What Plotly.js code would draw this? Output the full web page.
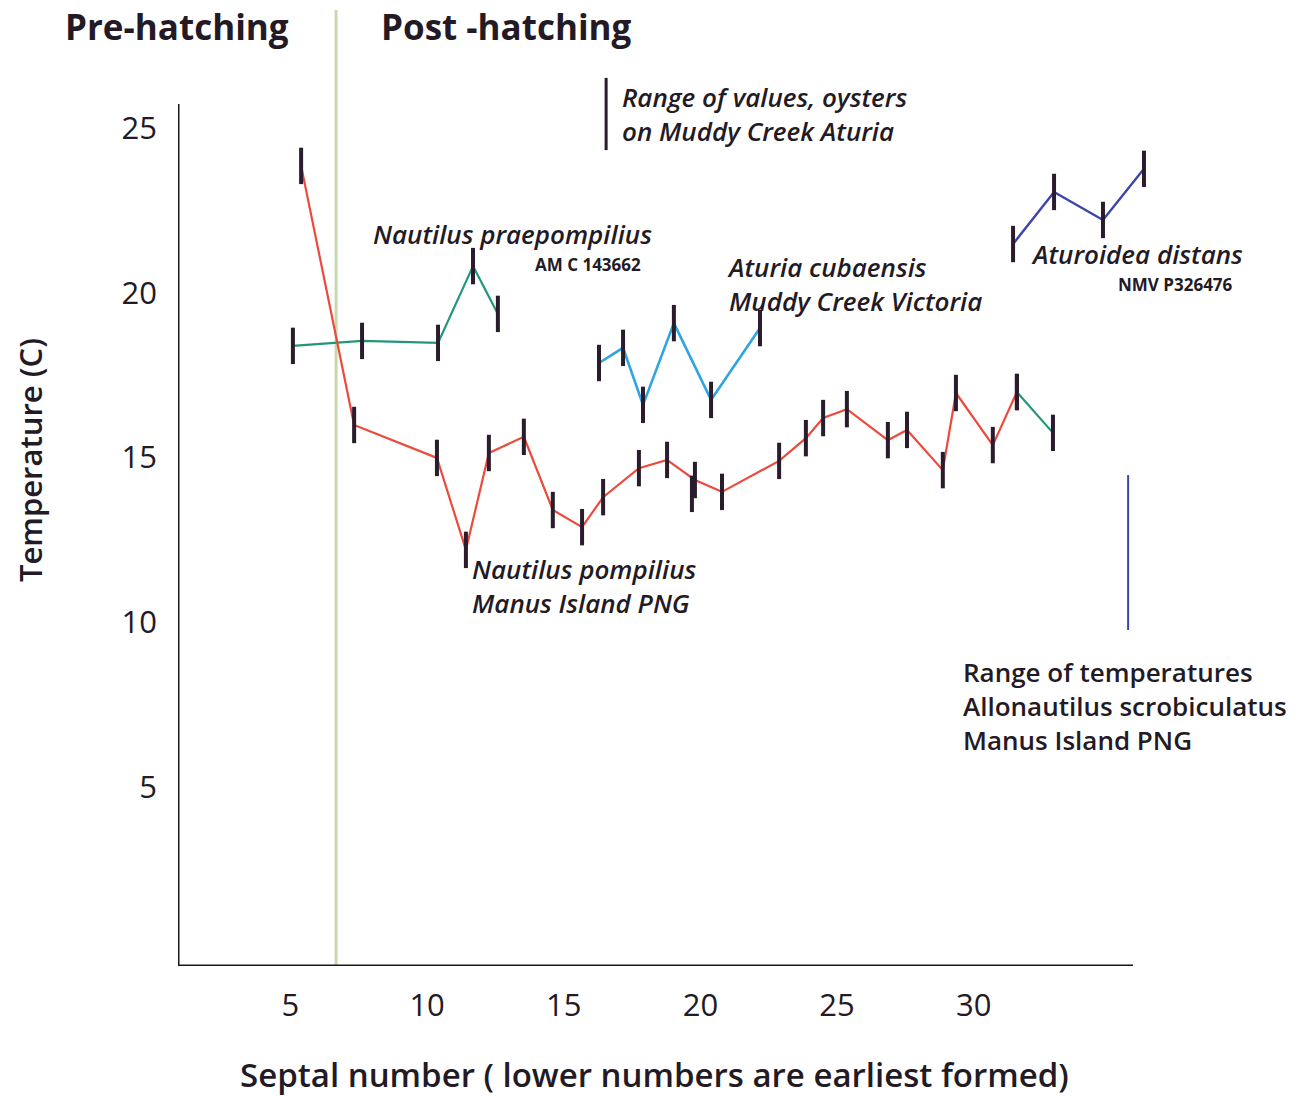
<!DOCTYPE html>
<html>
<head>
<meta charset="utf-8">
<script src="https://cdn.plot.ly/plotly-3.0.1.min.js"></script>
<style>html,body{margin:0;padding:0;background:#fff;}#chart{width:1304px;height:1096px;}</style>
</head>
<body>
<div id="chart"></div>
<script>
// ---- Data ----
// Nautilus pompilius, Manus Island PNG
const pompiliusSeptum = [5.39, 7.33, 10.36, 11.42, 12.26, 13.54, 14.60, 15.67, 16.44, 17.75, 18.78, 19.80, 20.79, 22.88, 23.86, 24.49, 25.36, 26.86, 27.56, 28.87, 29.35, 30.70, 31.58];
const pompiliusTemp   = [23.85, 15.99, 14.99, 12.20, 15.14, 15.63, 13.41, 12.89, 13.80, 14.68, 14.93, 14.32, 13.96, 14.90, 15.59, 16.20, 16.47, 15.53, 15.84, 14.62, 16.96, 15.38, 16.99];
// extra measurement marker near septum 19.7
const pompiliusExtraSeptum = [19.69];
const pompiliusExtraTemp   = [13.90];
// last segment drawn in teal
const pompiliusTailSeptum = [31.58, 32.90];
const pompiliusTailTemp   = [16.99, 15.75];
// Nautilus praepompilius AM C 143662
const praepompiliusSeptum = [5.09, 7.62, 10.40, 11.68, 12.59];
const praepompiliusTemp   = [18.39, 18.54, 18.48, 20.81, 19.36];
// Aturia cubaensis, Muddy Creek Victoria
const cubaensisSeptum = [16.29, 17.17, 17.90, 19.03, 20.39, 22.18];
const cubaensisTemp   = [17.87, 18.33, 16.60, 19.08, 16.75, 18.93];
// Aturoidea distans NMV P326476
const distansSeptum = [31.44, 32.94, 34.73, 36.23];
const distansTemp   = [21.48, 23.06, 22.21, 23.76];
// Range of values, oysters on Muddy Creek Aturia
const oysterSeptum = [16.55, 16.55];
const oysterRange  = [24.33, 26.52];
// Range of temperatures, Allonautilus scrobiculatus
const allonautilusSeptum = [35.65, 35.65];
const allonautilusRange  = [9.77, 14.47];
// Hatching boundary (septal number)
const hatchingSeptum = 6.67;
// Tick values
const xTicks = [5, 10, 15, 20, 25, 30];
const yTicks = [5, 10, 15, 20, 25];

// ---- Layout helpers ----
const L = 178, R = 1160, T = 60, B = 966, WW = 1304, HH = 1096;
const W = R - L, H = B - T;
const PX = p => (p - L) / W;
const PY = p => (B - p) / H;

const FONT = '"Open Sans", "Noto Sans", sans-serif';
const TXT = '#231a25';
const MARK = '#2a1c2c';

const mk = {symbol: 'line-ns', size: 26, color: MARK, line: {color: MARK, width: 4}};

const traces = [
  {x: praepompiliusSeptum, y: praepompiliusTemp, mode: 'lines+markers', line: {color: '#23967a', width: 2.2}, marker: mk, name: 'Nautilus praepompilius'},
  {x: pompiliusSeptum, y: pompiliusTemp, mode: 'lines+markers', line: {color: '#ec4a3c', width: 2.2}, marker: mk, name: 'Nautilus pompilius'},
  {x: pompiliusExtraSeptum, y: pompiliusExtraTemp, mode: 'markers', marker: mk, name: 'extra'},
  {x: pompiliusTailSeptum, y: pompiliusTailTemp, mode: 'lines+markers', line: {color: '#23967a', width: 2.2}, marker: mk, name: 'tail'},
  {x: cubaensisSeptum, y: cubaensisTemp, mode: 'lines+markers', line: {color: '#2ea4e0', width: 2.6}, marker: mk, name: 'Aturia cubaensis'},
  {x: distansSeptum, y: distansTemp, mode: 'lines+markers', line: {color: '#3b46a8', width: 2.4}, marker: mk, name: 'Aturoidea distans'},
  {x: oysterSeptum, y: oysterRange, mode: 'lines', line: {color: '#2a1c2c', width: 3}, name: 'oysters'},
  {x: allonautilusSeptum, y: allonautilusRange, mode: 'lines', line: {color: '#3b46a8', width: 2}, name: 'Allonautilus'}
];

const xr0 = (L - 153.8) / 27.33, xr1 = (R - 153.8) / 27.33;
const yr0 = (952 - B) / 32.96, yr1 = (952 - T) / 32.96;
const xAxisEnd = (1133 - 153.8) / 27.33;
const yAxisTop = (952 - 104) / 32.96;

function ann(text, px, py, size, weight) {
  return {
    text: text, xref: 'paper', yref: 'paper', x: PX(px), y: PY(py),
    xanchor: 'left', yanchor: 'middle', align: 'left', showarrow: false,
    font: {family: FONT, size: size, color: TXT, weight: weight || 400}
  };
}

const annotations = [
  ann('Pre-hatching', 63, 27, 35, 700),
  ann('Post -hatching', 379, 27, 35, 700),
  ann('<i>Range of values, oysters<br>on Muddy Creek Aturia</i>', 620, 114, 26, 600),
  ann('<i>Nautilus praepompilius</i>', 371, 234, 26, 600),
  ann('AM C 143662', 533, 264, 17, 700),
  ann('<i>Aturia cubaensis<br>Muddy Creek Victoria</i>', 725, 284, 26, 600),
  ann('<i>Aturoidea distans</i>', 1029, 254, 26, 600),
  ann('NMV P326476', 1116, 284, 17, 700),
  ann('<i>Nautilus pompilius<br>Manus Island PNG</i>', 470, 586, 26, 600),
  ann('Range of temperatures<br>Allonautilus scrobiculatus<br>Manus Island PNG', 961, 706, 26, 600),
  {text: 'Temperature (C)', xref: 'paper', yref: 'paper', x: PX(30), y: PY(460), textangle: -90,
   xanchor: 'center', yanchor: 'middle', showarrow: false, font: {family: FONT, size: 31, color: TXT, weight: 600}},
  {text: 'Septal number ( lower numbers are earliest formed)', xref: 'paper', yref: 'paper', x: PX(654), y: PY(1074),
   xanchor: 'center', yanchor: 'middle', showarrow: false, font: {family: FONT, size: 33, color: TXT, weight: 600}}
];

const shapes = [
  {type: 'line', xref: 'x', yref: 'paper', x0: hatchingSeptum, x1: hatchingSeptum, y0: 0, y1: PY(10),
   line: {color: '#c8d8ab', width: 3}, layer: 'below'},
  {type: 'line', xref: 'x', yref: 'y', x0: xr0, x1: xAxisEnd, y0: yr0, y1: yr0, line: {color: '#1c1420', width: 3}},
  {type: 'line', xref: 'x', yref: 'y', x0: xr0, x1: xr0, y0: yr0, y1: yAxisTop, line: {color: '#1c1420', width: 3}}
];

const layout = {
  width: WW, height: HH,
  margin: {l: L, r: WW - R, t: T, b: HH - B, pad: 0},
  paper_bgcolor: '#ffffff', plot_bgcolor: '#ffffff',
  showlegend: false,
  font: {family: FONT, color: TXT},
  xaxis: {range: [xr0, xr1], tickvals: xTicks, showgrid: false, zeroline: false, showline: false,
          ticks: '', ticklabelstandoff: 18, tickfont: {family: FONT, size: 31, color: TXT, weight: 500}},
  yaxis: {range: [yr0, yr1], tickvals: yTicks, showgrid: false, zeroline: false, showline: false,
          ticks: '', ticklabelstandoff: 20, tickfont: {family: FONT, size: 31, color: TXT, weight: 500}},
  annotations: annotations,
  shapes: shapes
};

Plotly.newPlot('chart', traces, layout, {staticPlot: true, displayModeBar: false});
</script>
</body>
</html>
